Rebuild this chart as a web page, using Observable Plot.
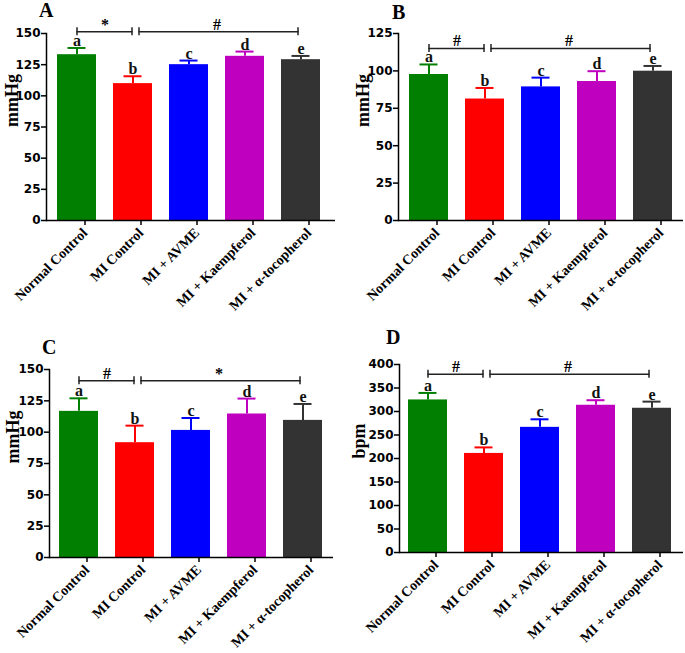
<!DOCTYPE html>
<html><head><meta charset="utf-8">
<script src="https://cdn.jsdelivr.net/npm/d3@7"></script>
<script src="https://cdn.jsdelivr.net/npm/@observablehq/plot@0.6"></script>
<style>
body{margin:0;background:#fff;}
#fig{position:relative;width:685px;height:653px;overflow:hidden;background:#fff;}
.panel{position:absolute;}
.panel svg{overflow:visible;}
.plabel{position:absolute;font-family:"Liberation Serif",serif;font-weight:bold;font-size:20px;line-height:1;color:#000;}
</style></head><body><div id="fig"></div><script>
// ---- data ----
const groups = ["Normal Control", "MI Control", "MI + AVME", "MI + Kaempferol", "MI + α-tocopherol"];
const colors = ["#007f00", "#ff0000", "#0000ff", "#bf00bf", "#333333"];
const letters = ["a", "b", "c", "d", "e"];

const meanA = [133, 109.8, 125, 131.7, 129];
const errA  = [5.4, 5.9, 3.3, 3.8, 3.0];
const meanB = [97.6, 81.2, 89.3, 92.9, 99.8];
const errB  = [6.7, 7.4, 6.2, 6.9, 3.5];
const meanC = [116.6, 91.6, 101.4, 114.5, 109.4];
const errC  = [10.4, 13.6, 9.9, 12.3, 13.1];
const meanD = [324.6, 210.8, 266.3, 313.3, 306.9];
const errD  = [14.9, 12.8, 17.1, 10.7, 14.1];

const ticksA = [0, 25, 50, 75, 100, 125, 150];
const ticksB = [0, 25, 50, 75, 100, 125];
const ticksC = [0, 25, 50, 75, 100, 125, 150];
const ticksD = [0, 50, 100, 150, 200, 250, 300, 350, 400];

const symbolsA = ["*", "#"];
const symbolsB = ["#", "#"];
const symbolsC = ["#", "*"];
const symbolsD = ["#", "#"];
const bracketLevel = [151.5, 115, 141, 379];

const panelLetters = ["A", "B", "C", "D"];
const yLabels = ["mmHg", "mmHg", "mmHg", "bpm"];

// ---- layout ----
const layouts = [
  {left: 0,   top: 0,   width: 340, height: 330, mL: 46, mT: 33, mB: 110, mR: 5, po: 0.21, align: 0.42, labelDx: -34, lx: 39,  ly: 0},
  {left: 340, top: 0,   width: 345, height: 330, mL: 58, mT: 33, mB: 110, mR: 2, po: 0.18, align: 0.5,  labelDx: -35, lx: 392, ly: 2},
  {left: 0,   top: 330, width: 340, height: 323, mL: 49, mT: 39, mB: 96,  mR: 7, po: 0.17, align: 0.47, labelDx: -36, lx: 42,  ly: 337},
  {left: 340, top: 330, width: 345, height: 323, mL: 59, mT: 34, mB: 101, mR: 2, po: 0.16, align: 0.44, labelDx: -40, lx: 386, ly: 327}
];
const series = [
  {mean: meanA, err: errA, ticks: ticksA, symbols: symbolsA},
  {mean: meanB, err: errB, ticks: ticksB, symbols: symbolsB},
  {mean: meanC, err: errC, ticks: ticksC, symbols: symbolsC},
  {mean: meanD, err: errD, ticks: ticksD, symbols: symbolsD}
];

const serif = "'Liberation Serif', 'Times New Roman', serif";
const fig = document.getElementById("fig");

series.forEach((s, k) => {
  const L = layouts[k];
  const level = bracketLevel[k];
  const data = groups.map((g, i) => ({group: g, color: colors[i], letter: letters[i], mean: s.mean[i], top: s.mean[i] + s.err[i]}));
  const br1 = [{x1: groups[0], x2: groups[1], y: level}];
  const br2 = [{x1: groups[1], x2: groups[4], y: level}];
  const sym1 = [{x: groups[0], y: level, t: s.symbols[0]}];
  const sym2 = [{x: groups[2], y: level, t: s.symbols[1]}];
  const ymax = s.ticks[s.ticks.length - 1];
  const bline = {strokeWidth: 1.5, stroke: "#222"};

  const chart = Plot.plot({
    width: L.width, height: L.height,
    marginLeft: L.mL, marginTop: L.mT, marginBottom: L.mB, marginRight: L.mR,
    style: {background: "transparent", color: "#000", overflow: "visible"},
    x: {domain: groups, paddingInner: 0.31, paddingOuter: L.po, align: L.align},
    y: {domain: [0, ymax]},
    color: {type: "identity"},
    marks: [
      Plot.barY(data, {x: "group", y: "mean", fill: "color"}),
      Plot.ruleX(data, {x: "group", y1: "mean", y2: "top", stroke: "color", strokeWidth: 2}),
      Plot.tickY(data, {x: "group", y: "top", stroke: "color", strokeWidth: 2, insetLeft: 10.5, insetRight: 10.5}),
      Plot.text(data, {x: "group", y: "top", text: "letter", lineAnchor: "bottom", dy: -2,
        fontFamily: serif, fontSize: 16, fontWeight: "bold", fill: "#111"}),
      // significance brackets
      Plot.arrow(br1, {x1: "x1", x2: "x2", y1: "y", y2: "y", headLength: 0, insetEnd: 1, ...bline}),
      Plot.arrow(br2, {x1: "x1", x2: "x2", y1: "y", y2: "y", headLength: 0, insetStart: 6, insetEnd: 3, ...bline}),
      Plot.ruleX(br1, {x: "x1", y1: "y", y2: "y", insetTop: -4, insetBottom: -4, ...bline}),
      Plot.ruleX(br1, {x: "x2", y1: "y", y2: "y", insetTop: -4, insetBottom: -4, dx: -1, ...bline}),
      Plot.ruleX(br2, {x: "x1", y1: "y", y2: "y", insetTop: -4, insetBottom: -4, dx: 6, ...bline}),
      Plot.ruleX(br2, {x: "x2", y1: "y", y2: "y", insetTop: -4, insetBottom: -4, dx: -3, ...bline}),
      Plot.text(sym1, {x: "x", y: "y", text: "t", dx: 28, dy: -2, lineAnchor: "bottom", fontFamily: serif, fontSize: 16, fontWeight: "bold"}),
      Plot.text(sym2, {x: "x", y: "y", text: "t", dx: 28, dy: -2, lineAnchor: "bottom", fontFamily: serif, fontSize: 16, fontWeight: "bold"}),
      // axes
      Plot.axisY({ticks: s.ticks, tickSize: 5, tickPadding: 1, label: null,
        fontFamily: "'DejaVu Sans', sans-serif", fontSize: 12, fontWeight: "bold", strokeWidth: 1.5}),
      Plot.axisX({tickSize: 4, tickRotate: -45, tickPadding: 5, dx: 8, dy: 1, label: null,
        fontFamily: serif, fontSize: 14, fontWeight: "bold", strokeWidth: 1.5}),
      Plot.frame({anchor: "left", strokeWidth: 1.5}),
      Plot.ruleY([0], {strokeWidth: 1.5}),
      Plot.text([yLabels[k]], {text: d => d, frameAnchor: "left", rotate: -90, dx: L.labelDx,
        fontFamily: serif, fontSize: 18, fontWeight: "bold"})
    ]
  });
  const wrap = document.createElement("div");
  wrap.className = "panel";
  wrap.style.left = L.left + "px";
  wrap.style.top = L.top + "px";
  wrap.appendChild(chart);
  fig.appendChild(wrap);

  const lab = document.createElement("div");
  lab.className = "plabel";
  lab.style.left = L.lx + "px";
  lab.style.top = L.ly + "px";
  lab.textContent = panelLetters[k];
  fig.appendChild(lab);
});
</script></body></html>
